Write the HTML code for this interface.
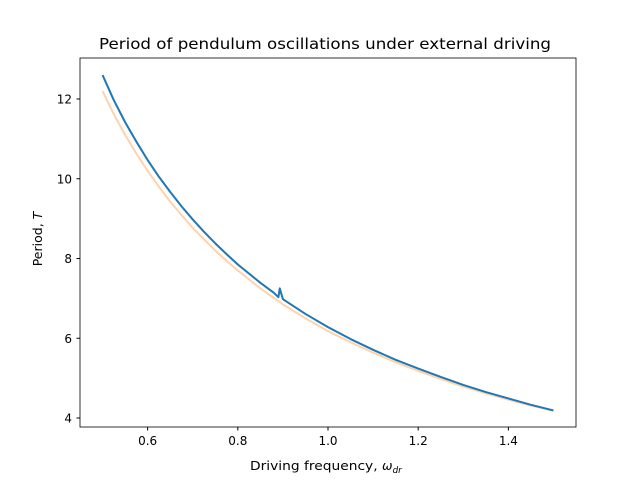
<!DOCTYPE html>
<html><head><meta charset="utf-8"><style>
body{margin:0;background:#fff;font-family:"Liberation Sans","DejaVu Sans",sans-serif}
svg text{font-family:"DejaVu Sans","Liberation Sans",sans-serif}
</style></head><body>
<svg id="c" width="640" height="480" xmlns="http://www.w3.org/2000/svg">
<rect width="640" height="480" fill="#fff"/>
<text x="99" y="49" textLength="452" lengthAdjust="spacingAndGlyphs" font-size="15.5">Period of pendulum oscillations under external driving</text>
<g id="plot"></g>
<rect x="80" y="58" width="496" height="369" fill="none" stroke="#000" stroke-width="0.8"/>
<g id="xt"></g>
<g id="yt"></g>
<text x="250" y="470" font-size="12.5"><tspan textLength="132" lengthAdjust="spacingAndGlyphs">Driving frequency, </tspan><tspan font-style="italic">ω</tspan><tspan font-style="italic" font-size="9" dy="3">dr</tspan></text>
<text transform="translate(42,239) rotate(-90)" text-anchor="middle" font-size="12.5">Period, <tspan font-style="italic">T</tspan></text>
</svg>
<script>
const blueW=[0.5,0.525,0.55,0.575,0.6,0.625,0.65,0.675,0.7,0.725,0.75,0.775,0.8,0.85,0.88,0.89,0.893,0.9,0.95,1.0,1.05,1.1,1.15,1.2,1.25,1.3,1.35,1.4,1.45,1.5];
const blueT=[12.6,11.97,11.42,10.93,10.47,10.05,9.67,9.31,8.98,8.67,8.38,8.11,7.85,7.39,7.14,7.03,7.25,6.98,6.61,6.28,5.98,5.71,5.46,5.24,5.03,4.83,4.65,4.49,4.33,4.19];
const orangeW=[0.5,0.525,0.55,0.575,0.6,0.625,0.65,0.675,0.7,0.725,0.75,0.775,0.8,0.85,0.9,0.95,1.0,1.05,1.1,1.15,1.2,1.25,1.3,1.35,1.4,1.45,1.5];
const orangeT=[12.2,11.62,11.1,10.63,10.2,9.8,9.43,9.09,8.77,8.48,8.2,7.94,7.7,7.25,6.85,6.5,6.18,5.9,5.64,5.4,5.18,4.98,4.79,4.62,4.46,4.31,4.18];
const xTicks=[0.6,0.8,1.0,1.2,1.4];
const yTicks=[4,6,8,10,12];
const NS="http://www.w3.org/2000/svg";
const X=v=>80+(v-0.45)/1.1*496;
const Y=v=>99+(12-v)*39.875;
function line(ws,ts,color,w,op,name){
  const p=document.createElementNS(NS,'polyline');
  p.setAttribute('points',ws.map((v,i)=>X(v)+','+Y(ts[i])).join(' '));
  p.setAttribute('fill','none');p.setAttribute('stroke',color);
  p.setAttribute('stroke-width',w);p.setAttribute('stroke-opacity',op);
  p.setAttribute('stroke-linejoin','round');
  
  
  document.getElementById('plot').appendChild(p);
}
line(orangeW,orangeT,'#ff7f0e',2,0.35,'orange-series');
line(blueW,blueT,'#1f77b4',2,1,'blue-series');
const xt=document.getElementById('xt');
xTicks.forEach(v=>{
  const l=document.createElementNS(NS,'line');
  l.setAttribute('x1',X(v));l.setAttribute('x2',X(v));l.setAttribute('y1',427);l.setAttribute('y2',430.5);l.setAttribute('stroke','#000');
  
  
  xt.appendChild(l);
  const t=document.createElementNS(NS,'text');
  t.setAttribute('x',X(v));t.setAttribute('y',445);t.setAttribute('text-anchor','middle');t.setAttribute('font-size','12');
  t.textContent=v.toFixed(1);
  
  
  xt.appendChild(t);
});
const yt=document.getElementById('yt');
yTicks.forEach(v=>{
  const l=document.createElementNS(NS,'line');
  l.setAttribute('x1',76.5);l.setAttribute('x2',80);l.setAttribute('y1',Y(v));l.setAttribute('y2',Y(v));l.setAttribute('stroke','#000');
  
  
  yt.appendChild(l);
  const t=document.createElementNS(NS,'text');
  t.setAttribute('x',72);t.setAttribute('y',Y(v)+4.5);t.setAttribute('text-anchor','end');t.setAttribute('font-size','12');
  t.textContent=String(v);
  
  
  yt.appendChild(t);
});
</script>
</body></html>
